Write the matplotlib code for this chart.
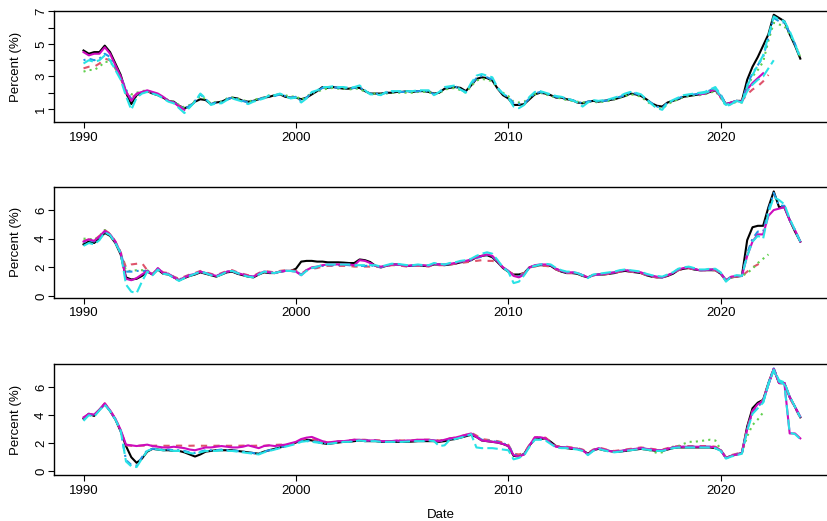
import numpy as np
import matplotlib
matplotlib.use("Agg")
from matplotlib import pyplot as plt

plt.rcParams['font.family'] = ['Liberation Sans', 'DejaVu Sans']

# all series are quarterly, first value = 1990 Q1 unless a start year is given

# ---- panel 1 ----
p1_black = [
    4.6, 4.4, 4.5, 4.5, 4.9, 4.5, 3.8, 3.1,
    2.0, 1.3, 1.85, 2.0, 2.1, 1.95, 1.85, 1.7,
    1.5, 1.45, 1.2, 1.05, 1.15, 1.45, 1.6, 1.55,
    1.3, 1.4, 1.45, 1.6, 1.7, 1.65, 1.5, 1.45,
    1.5, 1.6, 1.7, 1.75, 1.85, 1.9, 1.75, 1.7,
    1.7, 1.6, 1.7, 1.9, 2.1, 2.35, 2.3, 2.35,
    2.3, 2.25, 2.25, 2.3, 2.3, 2.1, 1.95, 1.95,
    1.95, 2.0, 2.0, 2.05, 2.05, 2.1, 2.05, 2.1,
    2.1, 2.05, 1.95, 2.0, 2.25, 2.3, 2.35, 2.3,
    2.1, 2.45, 2.85, 2.95, 2.9, 2.75, 2.25, 1.85,
    1.65, 1.25, 1.25, 1.3, 1.6, 1.9, 2.0, 1.95,
    1.85, 1.7, 1.7, 1.6, 1.55, 1.4, 1.35, 1.45,
    1.5, 1.45, 1.5, 1.55, 1.6, 1.7, 1.8, 1.95,
    1.9, 1.8, 1.6, 1.35, 1.2, 1.15, 1.4, 1.5,
    1.6, 1.75, 1.8, 1.85, 1.9, 1.95, 2.05, 2.15,
    1.8, 1.3, 1.4, 1.5, 1.5, 2.8, 3.6, 4.2,
    4.9, 5.6, 6.8, 6.6, 6.4, 5.6, 4.9, 4.1]
p1_green = [
    3.3, 3.4, 3.4, 3.6, 3.9, 3.9, 3.5, 2.9,
    2.1, 1.9, 2.0, 2.1, 2.15, 2.0, 1.9, 1.7,
    1.55, 1.45, 1.25, 1.1, 1.25, 1.5, 1.8, 1.6,
    1.35, 1.45, 1.45, 1.65, 1.7, 1.65, 1.55, 1.45,
    1.55, 1.65, 1.7, 1.85, 1.8, 1.9, 1.85, 1.75,
    1.8, 1.55, 1.75, 2.0, 2.05, 2.2, 2.25, 2.3,
    2.25, 2.25, 2.2, 2.25, 2.25, 2.05, 1.95, 1.95,
    1.9, 1.95, 2.0, 2.0, 2.0, 2.0, 2.0, 2.05,
    2.05, 2.05, 1.9, 1.95, 2.2, 2.25, 2.3, 2.15,
    2.0, 2.4, 2.75, 2.85, 2.8, 2.7, 2.25, 2.0,
    1.8, 1.45, 1.4, 1.45, 1.7, 1.9, 2.0, 1.9,
    1.8, 1.7, 1.65, 1.55, 1.5, 1.45, 1.4, 1.45,
    1.45, 1.4, 1.45, 1.5, 1.6, 1.7, 1.8, 1.9,
    1.85, 1.75, 1.5, 1.25, 1.1, 1.0, 1.3, 1.45,
    1.6, 1.75, 1.8, 1.85, 1.85, 1.9, 2.0, 2.1,
    1.7, 1.2, 1.3, 1.45, 1.4, 2.3, 3.0, 3.4,
    3.9, 5.2, 6.3, 6.2, 6.1, 5.6, 5.0, 4.2]
p1_blue = [
    4.0, 4.1, 4.0, 4.1, 4.4, 4.2, 3.6, 3.0,
    2.2, 1.6, 1.9, 2.0, 2.1, 2.0, 1.9, 1.7,
    1.5, 1.4, 1.2, 1.0, 1.2, 1.5, 1.9, 1.6,
    1.3, 1.4, 1.4, 1.6, 1.7, 1.6, 1.5, 1.4,
    1.5, 1.6, 1.7, 1.8, 1.8, 1.9, 1.8, 1.7,
    1.75, 1.5, 1.7, 2.0, 2.1, 2.3, 2.3, 2.35,
    2.3, 2.3, 2.25, 2.3, 2.35, 2.1, 1.95, 1.95,
    1.9, 2.0, 2.05, 2.05, 2.05, 2.05, 2.05, 2.1,
    2.1, 2.1, 1.9, 2.0, 2.3, 2.35, 2.4, 2.2,
    2.05, 2.5, 2.9, 3.05, 2.95, 2.8, 2.3, 1.9,
    1.75, 1.35, 1.3, 1.35, 1.65, 1.95, 2.05, 1.95,
    1.85, 1.75, 1.7, 1.6, 1.55, 1.45, 1.35, 1.45,
    1.5, 1.45, 1.5, 1.55, 1.65, 1.75, 1.85, 2.0,
    1.95, 1.85, 1.6, 1.35, 1.15, 1.05, 1.4, 1.5,
    1.65, 1.8, 1.85, 1.9, 1.95, 2.0, 2.15, 2.3,
    1.9, 1.3, 1.4, 1.5, 1.45, 2.5, 3.2, 3.7,
    4.2, 5.4, 6.6, 6.4, 6.3, 5.7, 5.0, 4.2]
p1_cyan = [
    3.8, 4.0, 3.9, 4.0, 4.3, 4.0, 3.4, 2.8,
    1.8, 0.95, 1.7, 1.95, 2.05, 1.95, 1.85, 1.65,
    1.45, 1.35, 1.05, 0.75, 1.1, 1.45, 1.95, 1.65,
    1.25, 1.35, 1.35, 1.55, 1.65, 1.55, 1.45, 1.3,
    1.45, 1.55, 1.65, 1.85, 1.85, 1.95, 1.8, 1.65,
    1.7, 1.4, 1.65, 2.05, 2.15, 2.35, 2.35, 2.4,
    2.35, 2.35, 2.3, 2.35, 2.45, 2.15, 1.9, 1.9,
    1.85, 2.05, 2.1, 2.1, 2.1, 2.1, 2.1, 2.15,
    2.15, 2.15, 1.85, 2.05, 2.35, 2.4, 2.45, 2.2,
    2.0, 2.6, 3.05, 3.15, 3.05, 2.95, 2.3, 1.95,
    1.7, 1.15, 1.05, 1.25, 1.75, 2.05, 2.1, 2.0,
    1.9, 1.8, 1.75, 1.65, 1.55, 1.4, 1.15, 1.4,
    1.55, 1.5, 1.55, 1.6, 1.7, 1.8, 1.95, 2.05,
    2.0, 1.9, 1.6, 1.3, 1.05, 0.95, 1.4, 1.55,
    1.7, 1.85, 1.9, 1.95, 2.0, 2.05, 2.2, 2.35,
    1.85, 1.15, 1.3, 1.5, 1.4, 2.4, 3.1, 3.7,
    4.3, 5.5, 6.7, 6.5, 6.4, 5.8, 5.0, 4.1]
p1_magenta_early = [4.5, 4.3, 4.4, 4.4, 4.8, 4.4, 3.7, 3.0, 2.1, 1.5,
                    1.95, 2.05, 2.15, 2.05, 1.95, 1.75, 1.5, 1.4, 1.15, 0.95]
p1_red_early = [3.5, 3.6, 3.6, 3.8, 4.1, 4.0, 3.5, 2.9, 2.0, 1.7,
                1.9, 2.0, 2.1, 2.0, 1.9, 1.7, 1.5, 1.4, 1.2, 1.0]
p1_magenta_late = [1.9, 1.95, 2.1, 2.2, 1.75, 1.3, 1.4, 1.5, 1.45, 2.2, 2.6, 2.9, 3.2]
p1_cyan_late = [1.95, 2.0, 2.1, 2.25, 1.8, 1.25, 1.35, 1.5, 1.4, 2.1, 2.5, 2.8, 3.0, 3.5, 4.0]
p1_red_late = [1.9, 1.95, 2.05, 2.2, 1.7, 1.3, 1.35, 1.45, 1.5, 1.9, 2.2, 2.4, 2.7, 3.1]

# ---- panel 2 ----
p2_black = [
    3.6, 3.8, 3.7, 4.0, 4.4, 4.2, 3.7, 2.9,
    1.3, 1.15, 1.2, 1.4, 1.7, 1.5, 1.85, 1.55,
    1.5, 1.3, 1.1, 1.25, 1.4, 1.5, 1.65, 1.55,
    1.45, 1.35, 1.5, 1.65, 1.7, 1.55, 1.45, 1.35,
    1.3, 1.5, 1.65, 1.6, 1.6, 1.7, 1.75, 1.75,
    1.9, 2.4, 2.45, 2.45, 2.4, 2.4, 2.35, 2.35,
    2.35, 2.33, 2.3, 2.3, 2.55, 2.5, 2.37, 2.1,
    2.0, 2.1, 2.2, 2.2, 2.15, 2.1, 2.1, 2.15,
    2.1, 2.1, 2.2, 2.2, 2.15, 2.2, 2.25, 2.35,
    2.4, 2.5, 2.7, 2.8, 2.85, 2.7, 2.35, 1.95,
    1.7, 1.5, 1.5, 1.6, 2.0, 2.1, 2.15, 2.15,
    2.1, 1.85, 1.7, 1.6, 1.6, 1.55, 1.4, 1.3,
    1.45, 1.5, 1.5, 1.55, 1.6, 1.7, 1.75, 1.7,
    1.65, 1.6, 1.45, 1.35, 1.3, 1.3, 1.4, 1.55,
    1.8, 1.9, 1.95, 1.85, 1.8, 1.8, 1.8, 1.8,
    1.55, 1.1, 1.3, 1.35, 1.4, 3.9, 4.8, 4.9,
    4.9, 6.2, 7.3, 6.2, 6.2, 5.3, 4.5, 3.8]
p2_red = [
    3.85, 3.95, 3.9, 4.2, 4.6, 4.35, 3.8, 3.05,
    2.0, 2.2, 2.25, 2.3, 1.8, 1.55, 1.9, 1.65,
    1.6, 1.35, 1.2, 1.35, 1.5, 1.6, 1.75, 1.65,
    1.55, 1.45, 1.6, 1.75, 1.8, 1.65, 1.55, 1.45,
    1.4, 1.6, 1.75, 1.7, 1.65, 1.75, 1.8, 1.8,
    1.75, 1.55, 1.8, 1.9, 1.95, 2.05, 2.1, 2.1,
    2.1, 2.1, 2.1, 2.05, 2.05, 2.05, 2.05, 2.05,
    2.0, 2.05, 2.15, 2.15, 2.1, 2.05, 2.1, 2.1,
    2.1, 2.05, 2.2, 2.15, 2.15, 2.2, 2.25, 2.3,
    2.35, 2.4, 2.45, 2.5, 2.45, 2.45, 2.35, 2.0,
    1.75, 1.5, 1.45, 1.6, 2.0, 2.05, 2.1, 2.1,
    2.05, 1.85, 1.7, 1.6, 1.6, 1.55, 1.45, 1.35,
    1.45, 1.5, 1.5, 1.55, 1.6, 1.7, 1.75, 1.7,
    1.65, 1.6, 1.45, 1.35, 1.3, 1.3, 1.45, 1.55,
    1.8, 1.9, 1.95, 1.85, 1.8, 1.8, 1.8, 1.8,
    1.55, 1.05, 1.3, 1.35, 1.4, 1.7, 2.0, 2.2,
    2.4]
p2_blue = [
    3.75, 3.9, 3.8, 4.1, 4.5, 4.3, 3.75, 3.0,
    1.7, 1.7, 1.75, 1.75, 1.75, 1.5, 1.9, 1.6,
    1.55, 1.3, 1.15, 1.3, 1.45, 1.55, 1.7, 1.6,
    1.5, 1.4, 1.55, 1.7, 1.75, 1.6, 1.5, 1.4,
    1.35, 1.55, 1.7, 1.65, 1.6, 1.7, 1.75, 1.75,
    1.72, 1.5, 1.8, 1.95, 2.0, 2.1, 2.15, 2.15,
    2.15, 2.18, 2.15, 2.1, 2.1, 2.1, 2.12, 2.1,
    2.0, 2.1, 2.2, 2.2, 2.15, 2.1, 2.12, 2.15,
    2.12, 2.1, 2.25, 2.2, 2.18, 2.25, 2.3, 2.4,
    2.45, 2.5, 2.65, 2.75, 2.85, 2.75, 2.4, 2.0,
    1.75, 1.45, 1.35, 1.55, 2.0, 2.1, 2.18, 2.2,
    2.15, 1.9, 1.75, 1.65, 1.65, 1.6, 1.45, 1.3,
    1.45, 1.5, 1.55, 1.6, 1.65, 1.75, 1.8, 1.75,
    1.7, 1.65, 1.5, 1.4, 1.35, 1.3, 1.45, 1.6,
    1.85, 1.95, 2.0, 1.9, 1.8, 1.8, 1.85, 1.85,
    1.6, 1.1, 1.35, 1.4, 1.4, 3.0, 4.0, 4.5,
    4.5, 6.0, 7.2, 6.3, 6.3, 5.3, 4.6, 3.8]
p2_magenta = [
    3.8, 3.95, 3.85, 4.15, 4.55, 4.3, 3.8, 3.0,
    1.2, 1.1, 1.25, 1.5, 1.75, 1.5, 1.95, 1.6,
    1.55, 1.3, 1.1, 1.3, 1.45, 1.55, 1.7, 1.6,
    1.5, 1.4, 1.55, 1.7, 1.75, 1.6, 1.5, 1.4,
    1.35, 1.55, 1.7, 1.65, 1.6, 1.7, 1.75, 1.75,
    1.7, 1.45, 1.8, 2.0, 2.05, 2.15, 2.2, 2.2,
    2.2, 2.2, 2.2, 2.15, 2.5, 2.45, 2.3, 2.1,
    2.05, 2.1, 2.2, 2.2, 2.15, 2.1, 2.15, 2.15,
    2.15, 2.1, 2.25, 2.2, 2.2, 2.25, 2.3, 2.4,
    2.45, 2.55, 2.7, 2.8, 2.9, 2.8, 2.4, 2.0,
    1.75, 1.4, 1.3, 1.5, 2.0, 2.15, 2.2, 2.2,
    2.15, 1.9, 1.75, 1.65, 1.65, 1.6, 1.45, 1.3,
    1.45, 1.5, 1.55, 1.6, 1.65, 1.75, 1.8, 1.75,
    1.7, 1.65, 1.5, 1.4, 1.35, 1.3, 1.45, 1.6,
    1.85, 1.95, 2.0, 1.9, 1.8, 1.8, 1.85, 1.85,
    1.6, 1.1, 1.35, 1.4, 1.4, 2.8, 3.8, 4.3,
    4.3, 5.6, 6.0, 6.1, 6.2, 5.3, 4.6, 3.8]
p2_cyan = [
    3.5, 3.7, 3.6, 3.9, 4.45, 4.25, 3.7, 3.0,
    0.8, 0.3, 0.2, 1.0, 1.7, 1.45, 1.85, 1.55,
    1.5, 1.25, 1.05, 1.25, 1.4, 1.55, 1.7, 1.6,
    1.45, 1.35, 1.5, 1.7, 1.75, 1.6, 1.45, 1.35,
    1.3, 1.5, 1.7, 1.65, 1.6, 1.7, 1.75, 1.75,
    1.7, 1.45, 1.75, 1.95, 2.05, 2.15, 2.2, 2.2,
    2.2, 2.2, 2.2, 2.15, 2.15, 2.15, 2.15, 2.15,
    2.05, 2.15, 2.25, 2.25, 2.2, 2.15, 2.15, 2.2,
    2.15, 2.15, 2.3, 2.25, 2.2, 2.3, 2.35, 2.45,
    2.5, 2.6, 2.8, 2.95, 3.05, 2.95, 2.5, 2.0,
    1.7, 0.9, 1.0, 1.45, 2.0, 2.1, 2.2, 2.25,
    2.2, 1.95, 1.8, 1.7, 1.7, 1.6, 1.45, 1.25,
    1.5, 1.55, 1.6, 1.65, 1.7, 1.8, 1.85, 1.8,
    1.75, 1.7, 1.55, 1.45, 1.4, 1.35, 1.5, 1.65,
    1.9, 2.0, 2.05, 1.95, 1.85, 1.85, 1.9, 1.9,
    1.65, 1.0, 1.35, 1.45, 1.4, 2.8, 3.8, 4.2,
    4.0, 5.8, 6.9, 6.7, 6.4, 5.4, 4.6, 3.8]
p2_green_early = [4.0, 4.0, 3.9, 4.2, 4.6, 4.3, 3.8, 3.0, 1.75, 1.75,
                  1.8, 1.8, 1.8, 1.55, 1.9, 1.6, 1.55]
p2_green_late = [1.8, 1.8, 1.85, 1.85, 1.6, 1.1, 1.3, 1.4, 1.4, 1.6, 1.9, 2.3, 2.6, 2.9]

# ---- panel 3 ----
p3_black = [
    3.75, 4.1, 3.95, 4.4, 4.8, 4.3, 3.7, 2.85,
    1.8, 1.0, 0.6, 0.9, 1.4, 1.6, 1.55, 1.5,
    1.5, 1.45, 1.45, 1.35, 1.2, 1.05, 1.2, 1.4,
    1.45, 1.5, 1.5, 1.5, 1.5, 1.45, 1.4, 1.35,
    1.3, 1.25, 1.4, 1.5, 1.6, 1.7, 1.8, 1.9,
    2.05, 2.2, 2.25, 2.2, 2.1, 2.0, 1.95, 2.0,
    2.05, 2.1, 2.1, 2.15, 2.2, 2.15, 2.15, 2.15,
    2.1, 2.1, 2.1, 2.1, 2.1, 2.1, 2.12, 2.15,
    2.15, 2.15, 2.15, 2.1, 2.15, 2.25, 2.3, 2.4,
    2.5, 2.6, 2.45, 2.2, 2.15, 2.1, 2.05, 1.95,
    1.8, 1.1, 1.05, 1.25, 1.85, 2.3, 2.3, 2.35,
    2.1, 1.8, 1.7, 1.65, 1.6, 1.6, 1.5, 1.25,
    1.5, 1.6, 1.5, 1.45, 1.4, 1.4, 1.45, 1.5,
    1.55, 1.6, 1.55, 1.5, 1.45, 1.45, 1.55, 1.65,
    1.7, 1.7, 1.7, 1.7, 1.7, 1.7, 1.7, 1.65,
    1.5, 0.95, 1.1, 1.2, 1.3, 3.2, 4.5, 4.9,
    5.1, 6.3, 7.3, 6.3, 6.3, 5.3, 4.6, 3.85]
p3_red = [
    3.8, 4.05, 4.0, 4.4, 4.85, 4.35, 3.75, 2.9,
    1.85, 1.82, 1.82, 1.83, 1.82, 1.82, 1.83, 1.82,
    1.82, 1.82, 1.83, 1.82, 1.82, 1.83, 1.82, 1.82,
    1.82, 1.82, 1.83, 1.82, 1.82, 1.82, 1.83, 1.82,
    1.82, 1.83, 1.82, 1.85, 1.88, 1.9, 1.9, 1.95,
    2.05, 2.25, 2.35, 2.3, 2.2, 2.15, 2.05, 2.1,
    2.15, 2.15, 2.2, 2.25, 2.25, 2.25, 2.2, 2.22,
    2.2, 2.15, 2.15, 2.2, 2.2, 2.2, 2.22, 2.25,
    2.25, 2.25, 2.25, 2.2, 2.25, 2.35, 2.4, 2.5,
    2.6, 2.75, 2.55, 2.3, 2.25, 2.2, 2.15, 2.05,
    1.9, 1.25, 1.2, 1.3, 1.9, 2.4, 2.45, 2.4,
    2.1, 1.8, 1.75, 1.75, 1.7, 1.65, 1.55, 1.3,
    1.55, 1.7, 1.6, 1.5, 1.45, 1.5, 1.55, 1.6,
    1.65, 1.7, 1.65, 1.6, 1.55, 1.55, 1.65, 1.75,
    1.8, 1.8, 1.8, 1.8, 1.8, 1.8, 1.8, 1.75,
    1.55, 1.0, 1.15, 1.25, 1.35, 3.1, 4.3, 4.7,
    5.1, 6.3, 7.3, 6.3, 6.25, 5.25, 4.55, 3.8]
p3_blue = [
    3.7, 4.1, 4.0, 4.4, 4.75, 4.3, 3.7, 2.9,
    0.8, 0.45, 0.4, 1.0, 1.5, 1.6, 1.6, 1.55,
    1.55, 1.5, 1.5, 1.45, 1.35, 1.3, 1.4, 1.5,
    1.5, 1.5, 1.55, 1.5, 1.5, 1.45, 1.4, 1.35,
    1.3, 1.25, 1.4, 1.5, 1.6, 1.7, 1.8, 1.9,
    2.0, 2.15, 2.2, 2.15, 2.1, 2.05, 2.0, 2.05,
    2.1, 2.12, 2.15, 2.2, 2.22, 2.2, 2.18, 2.2,
    2.15, 2.12, 2.12, 2.15, 2.15, 2.15, 2.18, 2.2,
    2.2, 2.22, 2.2, 2.15, 2.2, 2.3, 2.35, 2.45,
    2.55, 2.7, 2.5, 2.25, 2.2, 2.15, 2.1, 2.0,
    1.85, 1.2, 1.1, 1.2, 1.8, 2.3, 2.35, 2.3,
    2.0, 1.75, 1.7, 1.7, 1.65, 1.6, 1.5, 1.2,
    1.5, 1.65, 1.55, 1.45, 1.4, 1.45, 1.5, 1.55,
    1.6, 1.65, 1.6, 1.55, 1.5, 1.5, 1.6, 1.7,
    1.75, 1.75, 1.75, 1.75, 1.75, 1.75, 1.75, 1.7,
    1.5, 0.95, 1.1, 1.2, 1.3, 3.0, 4.2, 4.6,
    5.0, 6.3, 7.35, 6.4, 6.3, 5.3, 4.6, 3.85]
p3_magenta = [
    3.85, 4.1, 4.05, 4.4, 4.85, 4.35, 3.75, 2.95,
    1.9, 1.85, 1.8, 1.85, 1.9, 1.8, 1.75, 1.7,
    1.7, 1.75, 1.7, 1.65, 1.55, 1.5, 1.6, 1.7,
    1.7, 1.75, 1.8, 1.75, 1.7, 1.7, 1.75, 1.85,
    1.75, 1.65, 1.8, 1.85, 1.8, 1.85, 1.9, 2.0,
    2.1, 2.3, 2.4, 2.45, 2.3, 2.15, 2.05, 2.1,
    2.15, 2.15, 2.2, 2.25, 2.25, 2.2, 2.2, 2.2,
    2.15, 2.15, 2.15, 2.2, 2.15, 2.2, 2.2, 2.25,
    2.25, 2.25, 2.2, 2.15, 2.25, 2.35, 2.4, 2.5,
    2.6, 2.7, 2.45, 2.2, 2.15, 2.1, 2.05, 1.95,
    1.8, 1.15, 1.05, 1.2, 1.85, 2.43, 2.43, 2.35,
    2.0, 1.75, 1.7, 1.7, 1.65, 1.6, 1.5, 1.2,
    1.5, 1.65, 1.55, 1.45, 1.4, 1.45, 1.5, 1.55,
    1.6, 1.65, 1.6, 1.55, 1.5, 1.5, 1.6, 1.7,
    1.75, 1.75, 1.75, 1.75, 1.75, 1.75, 1.75, 1.7,
    1.5, 0.95, 1.1, 1.2, 1.3, 3.0, 4.3, 4.8,
    5.0, 6.2, 7.3, 6.3, 6.3, 5.3, 4.6, 3.9]
p3_cyan = [
    3.6, 4.0, 3.9, 4.35, 4.75, 4.3, 3.7, 2.9,
    0.7, 0.35, 0.3, 0.9, 1.45, 1.6, 1.55, 1.5,
    1.5, 1.45, 1.45, 1.4, 1.3, 1.25, 1.35, 1.45,
    1.45, 1.45, 1.5, 1.45, 1.45, 1.4, 1.35, 1.3,
    1.25, 1.2, 1.35, 1.45, 1.55, 1.65, 1.75, 1.85,
    1.95, 2.1, 2.15, 2.1, 2.05, 2.0, 1.95, 2.0,
    2.05, 2.1, 2.1, 2.15, 2.2, 2.15, 2.15, 2.15,
    2.1, 2.1, 2.1, 2.1, 2.1, 2.12, 2.15, 2.15,
    2.15, 2.2, 2.15, 1.8, 1.85, 2.25, 2.3, 2.4,
    2.5, 2.65, 1.7, 1.65, 1.65, 1.65, 1.6, 1.55,
    1.5, 0.85, 0.95, 1.15, 1.75, 2.25, 2.25, 2.2,
    1.95, 1.7, 1.65, 1.65, 1.6, 1.55, 1.45, 1.15,
    1.45, 1.6, 1.5, 1.4, 1.35, 1.4, 1.45, 1.5,
    1.55, 1.6, 1.55, 1.5, 1.45, 1.45, 1.55, 1.65,
    1.7, 1.7, 1.7, 1.7, 1.7, 1.7, 1.7, 1.65,
    1.45, 0.9, 1.05, 1.15, 1.25, 2.9, 4.1, 4.5,
    4.9, 6.2, 7.25, 6.5, 6.35, 5.35, 4.6, 3.85]
p3_green_late = [
    1.5, 1.6, 1.5, 1.45, 1.4, 1.45, 1.5, 1.55,
    1.6, 1.6, 1.55, 1.45, 1.3, 1.35, 1.6, 1.75,
    1.8, 1.95, 2.1, 2.1, 2.15, 2.2, 2.25, 2.2,
    1.55, 0.95, 1.1, 1.2, 1.3, 2.5, 3.3, 3.7,
    4.2]
p3_magenta_late = [5.0, 6.2, 7.3, 6.35, 6.3, 2.7, 2.7, 2.35]
p3_cyan_late = [4.9, 6.25, 7.2, 6.4, 6.2, 2.75, 2.65, 2.3]

# R default palette / matplot line types
col = {'black': 'black', 'red': '#DF536B', 'green': '#61D04F',
       'blue': '#2297E6', 'cyan': '#28E2E5', 'magenta': '#CD0BBC'}
lty = {'black': '-', 'red': (0, (3, 3)), 'green': (0, (1, 2)),
       'blue': (0, (1, 2, 3, 2)), 'cyan': (0, (5, 2)), 'magenta': '-'}

panels = [
    {'series': [(p1_black, 1990.0, 'black'), (p1_red_early, 1990.0, 'red'),
                (p1_red_late, 2019.0, 'red'), (p1_green, 1990.0, 'green'),
                (p1_blue, 1990.0, 'blue'), (p1_magenta_early, 1990.0, 'magenta'),
                (p1_magenta_late, 2019.0, 'magenta'), (p1_cyan, 1990.0, 'cyan'),
                (p1_cyan_late, 2019.0, 'cyan')],
     'box': (11, 122), 'ylim': (0.2, 7.03),
     'yticks': [1, 2, 3, 4, 5, 6, 7], 'ylabels': ['1', '', '3', '', '5', '', '7']},
    {'series': [(p2_black, 1990.0, 'black'), (p2_red, 1990.0, 'red'),
                (p2_green_early, 1990.0, 'green'), (p2_green_late, 2019.0, 'green'),
                (p2_blue, 1990.0, 'blue'), (p2_magenta, 1990.0, 'magenta'),
                (p2_cyan, 1990.0, 'cyan')],
     'box': (186.7, 297.7), 'ylim': (-0.12, 7.63),
     'yticks': [0, 2, 4, 6], 'ylabels': ['0', '2', '4', '6']},
    {'series': [(p3_black, 1990.0, 'black'), (p3_red, 1990.0, 'red'),
                (p3_green_late, 2014.0, 'green'), (p3_blue, 1990.0, 'blue'),
                (p3_magenta, 1990.0, 'magenta'), (p3_magenta_late, 2022.0, 'magenta'),
                (p3_cyan, 1990.0, 'cyan'), (p3_cyan_late, 2022.0, 'cyan')],
     'box': (364, 475.3), 'ylim': (-0.29, 7.66),
     'yticks': [0, 2, 4, 6], 'ylabels': ['0', '2', '4', '6']},
]

W, H = 827, 521
fig = plt.figure(figsize=(W / 100, H / 100), dpi=100)
left_px, right_px = 54, 833

for p in panels:
    top, bottom = p['box']
    ax = fig.add_axes([left_px / W, 1 - bottom / H, (right_px - left_px) / W, (bottom - top) / H])
    for vals, start, c in p['series']:
        x = start + 0.25 * np.arange(len(vals))
        ax.plot(x, vals, color=col[c], linestyle=lty[c], linewidth=1.5)
    ax.set_xlim(1988.61, 2025.29)
    ax.set_ylim(*p['ylim'])
    ax.set_xticks([1990, 2000, 2010, 2020])
    ax.set_yticks(p['yticks'])
    ax.set_yticklabels(p['ylabels'], rotation=90, va='center')
    ax.tick_params(direction='out', length=4.5, width=0.8, labelsize=9.5, top=False, right=False)
    ax.tick_params(axis='x', pad=2.5)
    ax.tick_params(axis='y', pad=0.5)
    for s in ax.spines.values():
        s.set_linewidth(1.0)
    fig.text(15.5 / W, 1 - (top + bottom) / 2 / H, 'Percent (%)', rotation=90,
             ha='center', va='center', fontsize=9.5)

fig.text(441 / W, 1 - 515.5 / H, 'Date', ha='center', va='center', fontsize=9.5)

fig.savefig('out.png', dpi=100)
